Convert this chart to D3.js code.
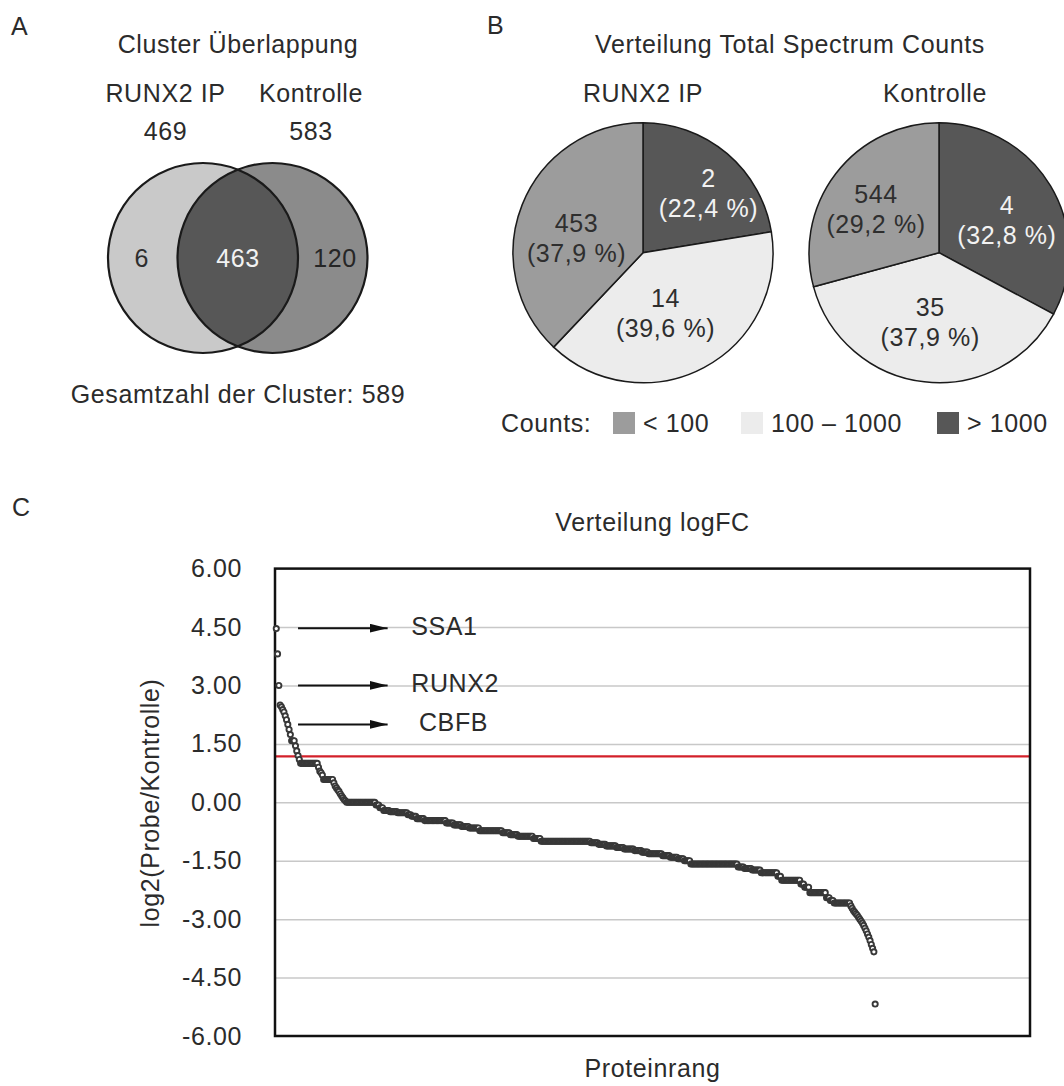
<!DOCTYPE html>
<html><head><meta charset="utf-8">
<script src="https://cdn.jsdelivr.net/npm/d3@7"></script>
<style>
html,body{margin:0;padding:0;background:#fff;}
svg text{font-family:"Liberation Sans",Arial,Helvetica,sans-serif;font-size:25px;fill:#2b2b2b;letter-spacing:0.6px;}
</style></head><body>
<svg id="chart" width="1064" height="1086"></svg>
<script>
// ---------- Panel A: cluster overlap ----------
const vennSets = ["RUNX2 IP", "Kontrolle"];
const vennTotals = [469, 583];
const vennRegionCounts = [6, 463, 120]; // only IP, both, only Kontrolle
const vennTotalClusters = 589;

// ---------- Panel B: total spectrum counts ----------
const pieGroups = ["RUNX2 IP", "Kontrolle"];
const countClasses = ["> 1000", "100 – 1000", "< 100"];
const legendClasses = ["< 100", "100 – 1000", "> 1000"];
const runx2Proteins = [2, 14, 453];
const runx2Share = [22.4, 39.6, 37.9];
const kontrolleProteins = [4, 35, 544];
const kontrolleShare = [32.8, 37.9, 29.2];

// ---------- Panel C: logFC distribution (run-length: level, number of proteins) ----------
const logFCLevels = [
  4.46, 3.81, 3.00,
  2.50, 2.45, 2.38, 2.32, 2.22, 2.12, 2.00, 1.87, 1.74, 1.58, 1.45, 1.32, 1.20, 1.10,
  1.00,
  0.90, 0.80, 0.76, 0.70,
  0.585,
  0.50, 0.42, 0.37, 0.32, 0.28, 0.22, 0.17, 0.12, 0.07, 0.04,
  0.00,
  -0.07, -0.14, -0.21, -0.24, -0.27, -0.32, -0.36, -0.42, -0.47, -0.53, -0.58, -0.62, -0.66, -0.73, -0.78, -0.83, -0.87, -0.93,
  -1.00,
  -1.04, -1.08, -1.12, -1.16, -1.20, -1.24, -1.28, -1.32, -1.37, -1.41, -1.45, -1.50,
  -1.585,
  -1.66, -1.70, -1.74, -1.81, -1.90,
  -2.00,
  -2.10, -2.18,
  -2.32,
  -2.45, -2.52,
  -2.585,
  -2.66, -2.72, -2.78, -2.82, -2.86, -2.90, -2.95, -3.00, -3.05, -3.10, -3.16, -3.23, -3.30, -3.38, -3.46, -3.55, -3.65, -3.75, -3.84, -5.18
];
const logFCCounts = [
  1, 1, 1,
  1, 1, 1, 1, 1, 1, 1, 1, 1, 3, 1, 1, 1, 1,
  14,
  1, 1, 1, 1,
  8,
  1, 1, 1, 1, 1, 1, 1, 1, 1, 1,
  23,
  3, 3, 5, 6, 8, 3, 4, 6, 17, 6, 6, 6, 8, 18, 6, 6, 12, 6,
  39,
  6, 6, 8, 6, 8, 6, 5, 11, 6, 6, 5, 5,
  37,
  5, 6, 7, 13, 3,
  15,
  3, 4,
  13,
  3, 3,
  13,
  1, 1, 1, 1, 1, 1, 1, 1, 1, 1, 1, 1, 1, 1, 1, 1, 1, 1, 1, 1
];
const rankAxisMax = 590;
const yTickValues = [6, 4.5, 3, 1.5, 0, -1.5, -3, -4.5, -6];
const yTickLabels = ["6.00", "4.50", "3.00", "1.50", "0.00", "-1.50", "-3.00", "-4.50", "-6.00"];
const thresholdLogFC = 1.18;
const markedProteins = ["SSA1", "RUNX2", "CBFB"];
const markedLogFC = [4.47, 3.00, 2.00];

// ---------- layout ----------
const svg = d3.select("#chart");
const colors = { low: "#9c9c9c", mid: "#ececec", high: "#575757" };
const classColor = {"> 1000": colors.high, "100 – 1000": colors.mid, "< 100": colors.low};
const classText = {"> 1000": "#f2f2f2", "100 – 1000": "#2e2e2e", "< 100": "#2e2e2e"};

function txt(g, x, y, s, anchor, extra) {
  const t = g.append("text").attr("x", x).attr("y", y).attr("text-anchor", anchor || "middle").text(s);
  if (extra) extra(t);
  return t;
}

// ===== Panel A =====
const A = svg.append("g");
txt(A, 11, 35, "A", "start");
txt(A, 238, 53, "Cluster Überlappung");
const vx = d3.scaleLinear().domain([0, 1]).range([203, 272.5]);
const vennR = 95, vennCY = 258;
vennSets.forEach((s, i) => {
  txt(A, [165.5, 311][i], 101.7, s);
  txt(A, [165.5, 311][i], 140, vennTotals[i]);
});
const defs = svg.append("defs");
defs.append("clipPath").attr("id", "clipL").append("circle").attr("cx", vx(0)).attr("cy", vennCY).attr("r", vennR);
A.append("circle").attr("cx", vx(0)).attr("cy", vennCY).attr("r", vennR).attr("fill", "#c9c9c9");
A.append("circle").attr("cx", vx(1)).attr("cy", vennCY).attr("r", vennR).attr("fill", "#8b8b8b");
A.append("circle").attr("cx", vx(1)).attr("cy", vennCY).attr("r", vennR).attr("fill", "#575757").attr("clip-path", "url(#clipL)");
[0, 1].forEach(i => A.append("circle").attr("cx", vx(i)).attr("cy", vennCY).attr("r", vennR)
  .attr("fill", "none").attr("stroke", "#1a1a1a").attr("stroke-width", 2.2));
const regionX = [141.7, 238, 335];
const regionFill = ["#2e2e2e", "#f2f2f2", "#262626"];
vennRegionCounts.forEach((c, i) => txt(A, regionX[i], vennCY, c, "middle", t => t.attr("dominant-baseline", "central").style("fill", regionFill[i])));
txt(A, 238, 403, "Gesamtzahl der Cluster: " + vennTotalClusters);

// ===== Panel B =====
const B = svg.append("g");
txt(B, 487, 34, "B", "start");
txt(B, 790, 53, "Verteilung Total Spectrum Counts");
const pieCenters = [[643, 252.7], [939, 252.7]];
const pieR = 130;
const pieShares = [runx2Share, kontrolleShare];
const pieProteins = [runx2Proteins, kontrolleProteins];
const labelNudge = [[[15, 0], [-14, -9], [6, 14]], [[1, 7], [0, -8], [-1, 4]]];
const pie = d3.pie().sort(null).value(d => d.share);
const arc = d3.arc().innerRadius(0).outerRadius(pieR);
const labelArc = d3.arc().innerRadius(78).outerRadius(78);
pieGroups.forEach((grp, gi) => {
  const [cx, cy] = pieCenters[gi];
  txt(B, [643, 935][gi], 101.7, grp);
  const data = countClasses.map((c, i) => ({ cls: c, share: pieShares[gi][i], n: pieProteins[gi][i] }));
  const g = B.append("g").attr("transform", `translate(${cx},${cy})`);
  const arcs = pie(data);
  g.selectAll("path").data(arcs).join("path").attr("d", arc)
    .attr("fill", d => classColor[d.data.cls]).attr("stroke", "#1a1a1a").attr("stroke-width", 1.5);
  arcs.forEach((d, i) => {
    const [lx, ly] = labelArc.centroid(d);
    const x = lx + labelNudge[gi][i][0], y = ly + labelNudge[gi][i][1];
    const col = classText[d.data.cls];
    txt(g, x, y - 15, d.data.n, "middle", t => t.attr("dominant-baseline", "central").style("fill", col));
    txt(g, x, y + 15, "(" + d.data.share.toFixed(1).replace(".", ",") + " %)", "middle", t => t.attr("dominant-baseline", "central").style("fill", col));
  });
});
// legend
txt(B, 501, 432, "Counts:", "start");
const legendX = [613, 741, 937];
legendClasses.forEach((c, i) => {
  B.append("rect").attr("x", legendX[i]).attr("y", 412).attr("width", 22).attr("height", 22).attr("fill", classColor[c]);
  txt(B, legendX[i] + 30, 432, c, "start");
});

// ===== Panel C =====
const C = svg.append("g");
txt(C, 12, 516, "C", "start");
const plot = { left: 275, right: 1030, top: 568.6, bottom: 1036 };
txt(C, (plot.left + plot.right) / 2, 531, "Verteilung logFC");
const points = [];
logFCLevels.forEach((v, i) => { for (let k = 0; k < logFCCounts[i]; k++) points.push({ rank: points.length + 1, v }); });
const x = d3.scaleLinear().domain([0, rankAxisMax]).range([plot.left, plot.right]);
const y = d3.scaleLinear().domain([-6, 6]).range([plot.bottom, plot.top]);

// gridlines
C.append("g").attr("transform", `translate(${plot.left},0)`)
  .call(d3.axisLeft(y).tickValues(yTickValues.filter(v => Math.abs(v) < 6)).tickSize(-(plot.right - plot.left)).tickFormat(""))
  .call(g => g.select(".domain").remove())
  .call(g => g.selectAll(".tick line").attr("stroke", "#c8c8c8").attr("stroke-width", 1.5));
// tick labels
C.append("g").attr("transform", `translate(${plot.left},0)`)
  .call(d3.axisLeft(y).tickValues(yTickValues).tickSize(0).tickPadding(33).tickFormat((d, i) => yTickLabels[i]))
  .call(g => g.select(".domain").remove())
  .call(g => g.selectAll(".tick text").attr("font-size", null).attr("font-family", null).style("fill", "#2b2b2b"));
// threshold line
C.append("line").attr("x1", plot.left + 1).attr("x2", plot.right).attr("y1", y(thresholdLogFC)).attr("y2", y(thresholdLogFC))
  .attr("stroke", "#d3202a").attr("stroke-width", 2.2);
// frame
C.append("rect").attr("x", plot.left).attr("y", plot.top).attr("width", plot.right - plot.left).attr("height", plot.bottom - plot.top)
  .attr("fill", "none").attr("stroke", "#111").attr("stroke-width", 2.5);
// points
C.append("g").selectAll("circle").data(points).join("circle")
  .attr("cx", d => x(d.rank)).attr("cy", d => y(d.v)).attr("r", 2.6)
  .attr("fill", "#fff").attr("stroke", "#383838").attr("stroke-width", 1.9);
// annotations
defs.append("marker").attr("id", "arrowHead").attr("viewBox", "0 0 18 9").attr("refX", 18).attr("refY", 4.5)
  .attr("markerUnits", "userSpaceOnUse").attr("markerWidth", 18).attr("markerHeight", 9).attr("orient", "auto")
  .append("path").attr("d", "M0,0 L18,4.5 L0,9 Z").attr("fill", "#111");
const arrowFrom = 18, arrowTo = 88, labelAt = [106.5, 106.5, 112.5];
markedProteins.forEach((p, i) => {
  const yy = y(markedLogFC[i]);
  C.append("line").attr("x1", x(arrowFrom)).attr("x2", x(arrowTo)).attr("y1", yy).attr("y2", yy)
    .attr("stroke", "#111").attr("stroke-width", 2).attr("marker-end", "url(#arrowHead)");
  txt(C, x(labelAt[i]), yy - 2, p, "start", t => t.attr("dominant-baseline", "central"));
});
// axis titles
txt(C, 150, 803, "log2(Probe/Kontrolle)", "middle", t => t.attr("transform", "rotate(-90,150,803)").attr("dominant-baseline", "central"));
txt(C, (plot.left + plot.right) / 2, 1077, "Proteinrang");
</script>
</body></html>
